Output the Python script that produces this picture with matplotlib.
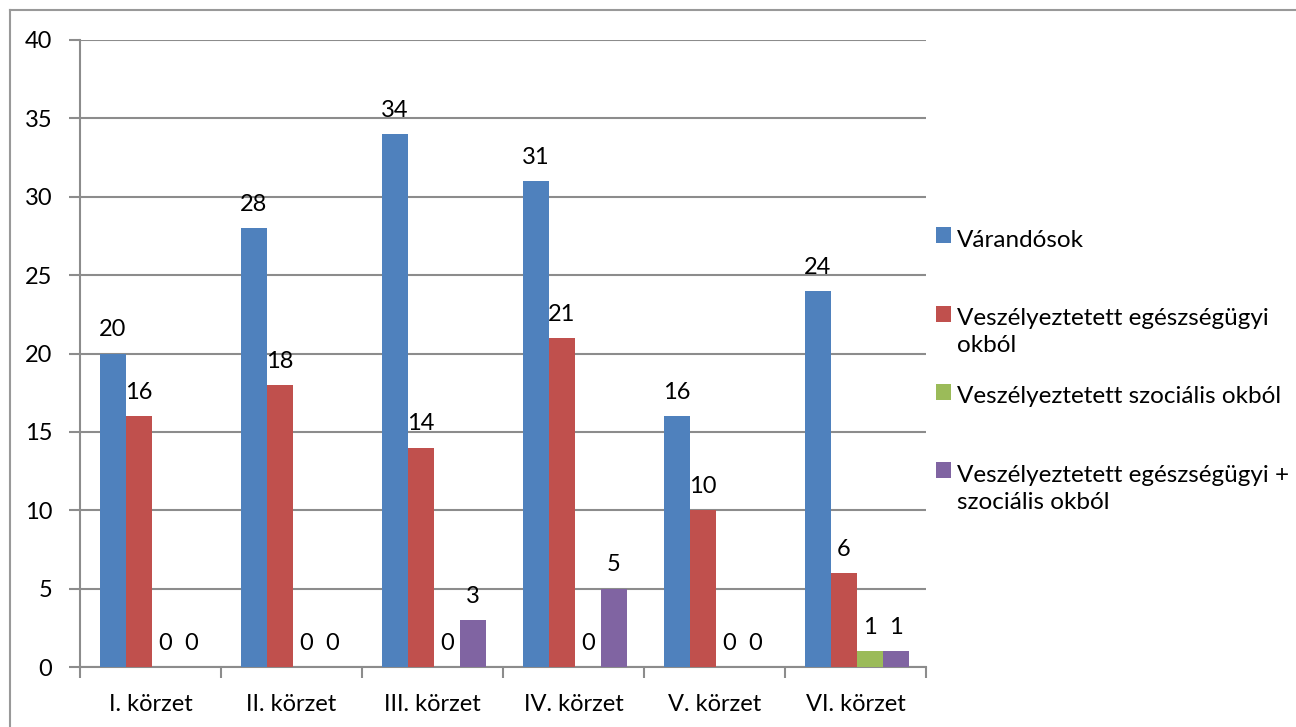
import numpy as np
import matplotlib.pyplot as plt
from matplotlib.lines import Line2D
from matplotlib.patches import Rectangle
from matplotlib.legend_handler import HandlerPatch
from matplotlib.ticker import FixedLocator

plt.rcParams['font.family'] = ['Lato', 'DejaVu Sans']

# data
korzetek = ['I. körzet', 'II. körzet', 'III. körzet', 'IV. körzet', 'V. körzet', 'VI. körzet']
varandosok = [20, 28, 34, 31, 16, 24]
eu_okbol = [16, 18, 14, 21, 10, 6]
szoc_okbol = [0, 0, 0, 0, 0, 1]
eu_szoc_okbol = [0, 0, 3, 5, 0, 1]

sorozatok = ['Várandósok',
             'Veszélyeztetett egészségügyi\nokból',
             'Veszélyeztetett szociális okból',
             'Veszélyeztetett egészségügyi +\nszociális okból']
szinek = ['#4F81BD', '#C0504D', '#9BBB59', '#8064A2']

W, H = 1296, 727
fig = plt.figure(figsize=(W / 100, H / 100), dpi=100)
ax = fig.add_axes([80 / W, 1 - 667 / H, (926 - 80) / W, (667 - 40) / H])

gray = '#8c8c8c'
fs = 17


class FirstLineHandler(HandlerPatch):
    # legend square lined up with the first text line (Excel style)
    def create_artists(self, legend, orig_handle, xdescent, ydescent,
                       width, height, fontsize, trans):
        p = Rectangle((-xdescent, -ydescent + 0.75 * fontsize), width, height,
                      facecolor=orig_handle.get_facecolor(), edgecolor='none',
                      transform=trans)
        return [p]


x = np.arange(len(korzetek))
bw = 0.184
ertekek = [varandosok, eu_okbol, szoc_okbol, eu_szoc_okbol]
handles = []
for i, (vals, c) in enumerate(zip(ertekek, szinek)):
    pos = x + (i - 1.5) * bw + 0.01
    bars = ax.bar(pos, vals, bw, color=c, zorder=3)
    handles.append(bars.patches[0])
    for b, v in zip(bars, vals):
        ax.annotate(str(v), (b.get_x() + b.get_width() / 2, v),
                    xytext=(0, 9.5), textcoords='offset points',
                    ha='center', va='bottom', fontsize=fs)

ax.set_xlim(-0.5, len(korzetek) - 0.5)
ax.set_ylim(0, 40)
ax.set_yticks(range(0, 41, 5))
ax.set_xticks(x)
ax.set_xticklabels(korzetek, fontsize=fs)
ax.xaxis.set_minor_locator(FixedLocator(np.arange(-0.5, len(korzetek), 1)))
ax.tick_params(axis='x', which='major', length=0, pad=19.5)
ax.tick_params(axis='x', which='minor', length=8, width=1.5, color=gray)
ax.tick_params(axis='y', length=8, width=1.5, color=gray, pad=12, labelsize=fs)
ax.yaxis.grid(True, color=gray, lw=1.5, zorder=0)
ax.set_axisbelow(True)
for s in ['top', 'right']:
    ax.spines[s].set_visible(False)
for s in ['left', 'bottom']:
    ax.spines[s].set_color(gray)
    ax.spines[s].set_linewidth(1.5)

# every entry takes two lines so the entries are evenly spaced
cimkek = [s if '\n' in s else s + '\n ' for s in sorozatok]
leg = fig.legend(handles, cimkek, loc='upper left',
                 bbox_to_anchor=(926 / W, 1 - 220 / H),
                 frameon=False, prop={'size': 17.5}, handlelength=0.63, handleheight=0.63,
                 handletextpad=0.25, labelspacing=1.25, borderaxespad=0,
                 handler_map={Rectangle: FirstLineHandler()})
for t in leg.get_texts():
    t.set_linespacing(1.35)

# outer chart border (only top and left visible in the crop)
fig.add_artist(Line2D([9.5 / W, 9.5 / W], [0, 1 - 10 / H], color='#999999', lw=1.5,
                      transform=fig.transFigure))
fig.add_artist(Line2D([9.5 / W, 1], [1 - 10 / H, 1 - 10 / H], color='#999999', lw=1.5,
                      transform=fig.transFigure))

fig.savefig('out.png', dpi=100)
